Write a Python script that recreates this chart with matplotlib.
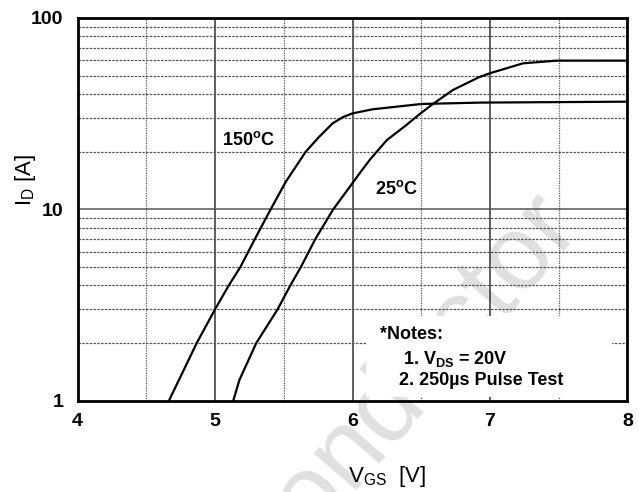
import matplotlib
matplotlib.use("Agg")
import matplotlib.pyplot as plt
from matplotlib.patches import Rectangle
from matplotlib.ticker import FixedLocator, NullFormatter

plt.rcParams["font.family"] = ["Liberation Sans", "DejaVu Sans"]
plt.rcParams["mathtext.fontset"] = "custom"
plt.rcParams["mathtext.rm"] = "Liberation Sans"
plt.rcParams["mathtext.bf"] = "Liberation Sans:bold"
plt.rcParams["mathtext.it"] = "Liberation Sans:italic"

# transfer characteristics
vgs_150 = [4.665, 4.867, 5.0, 5.10, 5.185, 5.29, 5.405, 5.514, 5.66, 5.757, 5.855, 5.93, 6.0, 6.145, 6.5, 6.93, 8.0]
id_150 = [1.0, 2.0, 3.0, 4.0, 5.0, 7.0, 10.0, 13.9, 20.0, 23.9, 28.1, 30.3, 31.7, 33.3, 35.5, 36.1, 36.5]

vgs_25 = [5.133, 5.177, 5.30, 5.455, 5.548, 5.625, 5.73, 5.86, 5.98, 6.06, 6.13, 6.25, 6.39, 6.49, 6.58, 6.73, 6.92, 7.0, 7.24, 7.485, 8.0]
id_25 = [1.0, 1.28, 2.0, 3.0, 4.0, 5.0, 7.0, 10.0, 13.1, 15.7, 18.3, 23.0, 27.5, 31.5, 35.3, 42.0, 49.0, 51.4, 57.9, 59.8, 59.8]

x_ticks = [4, 5, 6, 7, 8]
x_minor = [4.5, 5.5, 6.5, 7.5]
y_ticks = [1, 10, 100]
y_minor = [2, 3, 4, 5, 6, 7, 8, 9, 20, 30, 40, 50, 60, 70, 80, 90]

fig = plt.figure(figsize=(6.39, 4.92), dpi=100)
ax = fig.add_axes([0.1213, 0.1856, 0.8607, 0.778])
ax.set_yscale("log")
ax.set_xlim(4, 8)
ax.set_ylim(1, 100)

# faint watermark behind everything
fig.text(0.91, 0.54, "Semiconductor", fontsize=76, color="#e0e0e0",
         rotation=49, rotation_mode="anchor", ha="right", va="baseline", zorder=-1)
ax.patch.set_alpha(0)

# grid lines
for v in x_ticks[1:-1]:
    ax.axvline(v, color="#333333", lw=1.1, zorder=1)
for v in x_minor:
    ax.axvline(v, color="#555555", lw=0.9, ls=(0, (1, 1)), zorder=1)
ax.axhline(10, color="#555555", lw=1.1, zorder=1)
for v in y_minor:
    ax.axhline(v, color="#555555", lw=0.9, ls=(0, (2, 1)), zorder=1)

# white area under the notes
ax.add_patch(Rectangle((0.525, 0.01), 0.446, 0.21, transform=ax.transAxes,
                       fc="white", ec="none", zorder=2))

ax.plot(vgs_150, id_150, color="black", lw=1.6, zorder=3)
ax.plot(vgs_25, id_25, color="black", lw=1.6, zorder=3)

ax.text(5.05, 23, r"150$^{\mathbf{o}}$C", fontsize=13, fontweight="bold", ha="left", va="center", zorder=4)
ax.text(6.16, 12.8, r"25$^{\mathbf{o}}$C", fontsize=13, fontweight="bold", ha="left", va="center", zorder=4)

ax.text(6.2, 2.23, "*Notes:", fontsize=13, fontweight="bold", ha="left", va="center", zorder=4)
ax.text(6.37, 1.65, r"1. V$_{\mathbf{DS}}$ = 20V", fontsize=13, fontweight="bold", ha="left", va="center", zorder=4)
ax.text(6.34, 1.27, "2. 250µs Pulse Test", fontsize=13, fontweight="bold", ha="left", va="center", zorder=4)

ax.xaxis.set_major_locator(FixedLocator(x_ticks))
ax.yaxis.set_major_locator(FixedLocator(y_ticks))
ax.yaxis.set_minor_locator(FixedLocator(y_minor))
ax.yaxis.set_minor_formatter(NullFormatter())
ax.set_xticklabels([str(v) for v in x_ticks])
ax.set_yticklabels([str(v) for v in y_ticks])
ax.tick_params(which="both", length=0)
ax.tick_params(axis="x", pad=9)
ax.tick_params(axis="y", pad=10)
for lab in ax.get_xticklabels() + ax.get_yticklabels():
    lab.set_fontsize(14)
    lab.set_fontweight("bold")

for sp in ax.spines.values():
    sp.set_linewidth(2)
    sp.set_zorder(5)

fig.text(387 / 639, 0.02, r"V$_{\rm GS}$  [V]", fontsize=16, ha="center", va="baseline")
fig.text(25 / 639, 1 - 180 / 492, r"I$_{\rm D}$ [A]", fontsize=16, rotation=90, ha="center", va="center")

fig.savefig("out.png", dpi=100)
